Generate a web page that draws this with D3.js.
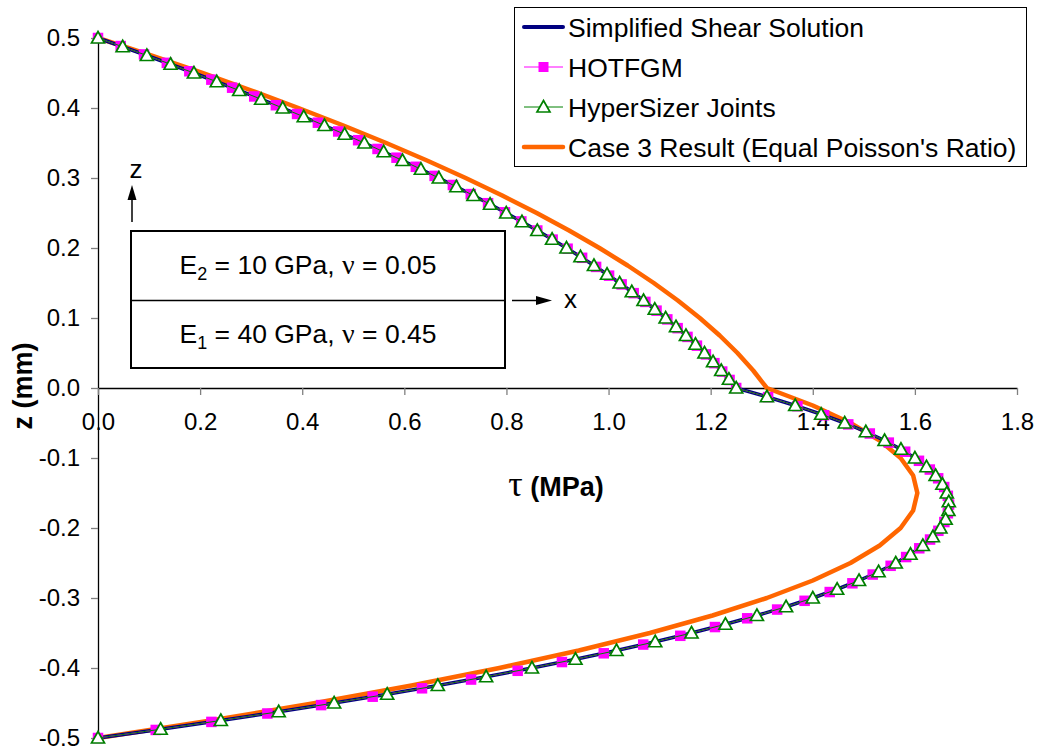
<!DOCTYPE html>
<html><head><meta charset="utf-8">
<script src="https://cdn.jsdelivr.net/npm/d3@7"></script>
<style>
body{margin:0;background:#fff;}
svg{display:block;font-family:"Liberation Sans",Arial,sans-serif;}
</style>
</head><body>
<svg id="chart" width="1037" height="752"></svg>
<script>
// ---------- data ----------
const seriesNames = ["Simplified Shear Solution", "HOTFGM", "HyperSizer Joints", "Case 3 Result (Equal Poisson's Ratio)"];

const xTicks = [0, 0.2, 0.4, 0.6, 0.8, 1.0, 1.2, 1.4, 1.6, 1.8];
const xTickLabels = ["0.0", "0.2", "0.4", "0.6", "0.8", "1.0", "1.2", "1.4", "1.6", "1.8"];
const yTicks = [0.5, 0.4, 0.3, 0.2, 0.1, 0, -0.1, -0.2, -0.3, -0.4, -0.5];
const yTickLabels = ["0.5", "0.4", "0.3", "0.2", "0.1", "0.0", "-0.1", "-0.2", "-0.3", "-0.4", "-0.5"];

// through-thickness positions z (mm) of the simplified solution / HyperSizer points
const zGrid = [0.5, 0.4875, 0.475, 0.4625, 0.45, 0.4375, 0.425, 0.4125, 0.4, 0.3875,
  0.375, 0.3625, 0.35, 0.3375, 0.325, 0.3125, 0.3, 0.2875, 0.275, 0.2625,
  0.25, 0.2375, 0.225, 0.2125, 0.2, 0.1875, 0.175, 0.1625, 0.15, 0.1375,
  0.125, 0.1125, 0.1, 0.0875, 0.075, 0.0625, 0.05, 0.0375, 0.025, 0.0125, 0,
  -0.0125, -0.025, -0.0375, -0.05, -0.0625, -0.075, -0.0875, -0.1, -0.1125, -0.125,
  -0.1375, -0.15, -0.1625, -0.175, -0.1875, -0.2, -0.2125, -0.225, -0.2375, -0.25,
  -0.2625, -0.275, -0.2875, -0.3, -0.3125, -0.325, -0.3375, -0.35, -0.3625, -0.375,
  -0.3875, -0.4, -0.4125, -0.425, -0.4375, -0.45, -0.4625, -0.475, -0.4875, -0.5];

// Simplified Shear Solution, tau (MPa)
const shearTau = [0, 0.0483, 0.0957, 0.1422, 0.1879, 0.2326, 0.2766, 0.3196, 0.3618, 0.4030,
  0.4435, 0.4830, 0.5217, 0.5595, 0.5964, 0.6325, 0.6676, 0.7019, 0.7354, 0.7679,
  0.7996, 0.8304, 0.8604, 0.8894, 0.9176, 0.9450, 0.9714, 0.9970, 1.0217, 1.0455,
  1.0685, 1.0905, 1.1118, 1.1321, 1.1516, 1.1702, 1.1879, 1.2047, 1.2207, 1.2358, 1.2500,
  1.3102, 1.3656, 1.4164, 1.4625, 1.5039, 1.5406, 1.5727, 1.6000, 1.6227, 1.6406,
  1.6539, 1.6625, 1.6664, 1.6656, 1.6602, 1.6500, 1.6352, 1.6156, 1.5914, 1.5625,
  1.5289, 1.4906, 1.4477, 1.4000, 1.3477, 1.2906, 1.2289, 1.1625, 1.0914, 1.0156,
  0.9352, 0.8500, 0.7602, 0.6656, 0.5664, 0.4625, 0.3539, 0.2406, 0.1227, 0];

// HyperSizer Joints, tau (MPa) at zGrid
const hyperTau = [0, 0.0483, 0.0957, 0.1422, 0.1879, 0.2326, 0.2766, 0.3196, 0.3618, 0.4030,
  0.4435, 0.4830, 0.5217, 0.5595, 0.5964, 0.6325, 0.6676, 0.7019, 0.7354, 0.7679,
  0.7996, 0.8304, 0.8604, 0.8894, 0.9176, 0.9450, 0.9714, 0.9970, 1.0217, 1.0455,
  1.0685, 1.0905, 1.1118, 1.1321, 1.1516, 1.1702, 1.1879, 1.2047, 1.2207, 1.2358, 1.2500,
  1.3102, 1.3656, 1.4164, 1.4625, 1.5039, 1.5406, 1.5727, 1.6000, 1.6227, 1.6406,
  1.6539, 1.6625, 1.6664, 1.6656, 1.6602, 1.6500, 1.6352, 1.6156, 1.5914, 1.5625,
  1.5289, 1.4906, 1.4477, 1.4000, 1.3477, 1.2906, 1.2289, 1.1625, 1.0914, 1.0156,
  0.9352, 0.8500, 0.7602, 0.6656, 0.5664, 0.4625, 0.3539, 0.2406, 0.1227, 0];

// HOTFGM points (own z positions)
const hotZ = [0.5, 0.4885, 0.4765, 0.4645, 0.4525, 0.4405, 0.429, 0.4165, 0.404, 0.3915,
  0.379, 0.3665, 0.354, 0.3415, 0.329, 0.316, 0.303, 0.29, 0.277, 0.264,
  0.251, 0.238, 0.225, 0.212, 0.199, 0.186, 0.173, 0.1605, 0.148, 0.1355,
  0.123, 0.1105, 0.098, 0.0855, 0.073, 0.0605, 0.048, 0.0355, 0.0235, 0.0115, 0,
  -0.013, -0.026, -0.039, -0.052, -0.065, -0.078, -0.091, -0.104, -0.1165, -0.129,
  -0.1415, -0.154, -0.1665, -0.179, -0.1915, -0.204, -0.2165, -0.229, -0.2415, -0.254,
  -0.2665, -0.279, -0.2915, -0.304, -0.3165, -0.329, -0.3415, -0.354, -0.3665, -0.379,
  -0.3915, -0.404, -0.4165, -0.429, -0.441, -0.453, -0.465, -0.477, -0.4885, -0.5];
const hotTau = [0, 0.0445, 0.0901, 0.1348, 0.1789, 0.2220, 0.2627, 0.3060, 0.3484, 0.3899,
  0.4307, 0.4705, 0.5095, 0.5475, 0.5847, 0.6225, 0.6593, 0.6951, 0.7301, 0.7640,
  0.7971, 0.8292, 0.8604, 0.8905, 0.9198, 0.9482, 0.9756, 1.0010, 1.0256, 1.0492,
  1.0721, 1.0940, 1.1151, 1.1353, 1.1546, 1.1731, 1.1907, 1.2073, 1.2226, 1.2370, 1.2500,
  1.3125, 1.3699, 1.4222, 1.4695, 1.5117, 1.5489, 1.5810, 1.6080, 1.6292, 1.6456,
  1.6574, 1.6645, 1.6669, 1.6646, 1.6577, 1.6460, 1.6297, 1.6086, 1.5829, 1.5525,
  1.5174, 1.4776, 1.4332, 1.3840, 1.3302, 1.2716, 1.2084, 1.1405, 1.0679, 0.9906,
  0.9087, 0.8220, 0.7307, 0.6346, 0.5380, 0.4370, 0.3317, 0.2221, 0.1131, 0];

// Case 3 Result (Equal Poisson's Ratio)
const caseZ = [0.5, 0.475, 0.45, 0.425, 0.4, 0.375, 0.35, 0.325, 0.3, 0.275,
  0.25, 0.225, 0.2, 0.175, 0.15, 0.125, 0.1, 0.075, 0.05, 0.025, 0,
  -0.025, -0.05, -0.075, -0.1, -0.125, -0.15, -0.175, -0.2, -0.225, -0.25,
  -0.275, -0.3, -0.325, -0.35, -0.375, -0.4, -0.425, -0.45, -0.475, -0.5];
const caseTau = [0, 0.1043, 0.2045, 0.3007, 0.3927, 0.4807, 0.5646, 0.6444, 0.7201, 0.7917,
  0.8593, 0.9227, 0.9821, 1.0374, 1.0886, 1.1357, 1.1787, 1.2177, 1.2525, 1.2833, 1.3100,
  1.4001, 1.4738, 1.5311, 1.5720, 1.5966, 1.6048, 1.5966, 1.5720, 1.5311, 1.4738,
  1.4001, 1.3100, 1.2036, 1.0808, 0.9416, 0.7860, 0.6141, 0.4258, 0.2211, 0];

// ---------- drawing ----------
const svg = d3.select("#chart");
svg.append("rect").attr("width", 1037).attr("height", 752).attr("fill", "#fff");

const x = d3.scaleLinear().domain([0, 1.8]).range([98, 1017]);
const y = d3.scaleLinear().domain([-0.5, 0.5]).range([738, 38]);

const colors = {shear: "#000080", hot: "#FF00FF", hyper: "#008000", case3: "#FF6600"};

// axes
const yAxis = d3.axisLeft(y).tickValues(yTicks).tickFormat((d, i) => yTickLabels[i])
  .tickSize(7).tickSizeOuter(0).tickPadding(11);
const gy = svg.append("g").attr("transform", "translate(98,0)").call(yAxis);
const xAxis = d3.axisBottom(x).tickValues(xTicks).tickFormat((d, i) => xTickLabels[i])
  .tickSize(7).tickSizeOuter(0);
const gx = svg.append("g").attr("transform", `translate(0,${y(0)})`).call(xAxis);

[gx, gy].forEach(g => {
  g.select(".domain").attr("stroke", "#000").attr("stroke-width", 1.3);
  g.selectAll(".tick line").attr("stroke", "#808080").attr("stroke-width", 1.3);
  g.selectAll(".tick text").attr("fill", "#000").attr("font-size", 24)
    .attr("font-family", "Liberation Sans, Arial, sans-serif");
});
gx.selectAll(".tick text").attr("y", 42).attr("dy", 0);

// axis titles
svg.append("text").attr("transform", "translate(32,386) rotate(-90)")
  .attr("text-anchor", "middle").attr("font-size", 27).attr("font-weight", "bold")
  .text("z (mm)");
const xt = svg.append("text").attr("x", 556).attr("y", 496).attr("text-anchor", "middle")
  .attr("font-weight", "bold").attr("font-size", 27);
xt.append("tspan").attr("font-family", "Liberation Serif, serif").attr("font-size", 36)
  .attr("font-weight", "normal").text("τ");
xt.append("tspan").text(" (MPa)");

// series
const line = d3.line().x(d => x(d[0])).y(d => y(d[1]));
const shearPts = shearTau.map((t, i) => [t, zGrid[i]]);
const hyperPts = hyperTau.map((t, i) => [t, zGrid[i]]);
const hotPts = hotTau.map((t, i) => [t, hotZ[i]]);
const casePts = caseTau.map((t, i) => [t, caseZ[i]]);

svg.append("path").datum(casePts).attr("d", line).attr("fill", "none")
  .attr("stroke", colors.case3).attr("stroke-width", 4.5).attr("stroke-linejoin", "round");
svg.append("path").datum(shearPts).attr("d", line).attr("fill", "none")
  .attr("stroke", colors.shear).attr("stroke-width", 3.5).attr("stroke-linejoin", "round");
svg.append("path").datum(hotPts).attr("d", line).attr("fill", "none")
  .attr("stroke", colors.hot).attr("stroke-width", 1);
svg.append("g").selectAll("rect").data(hotPts).join("rect")
  .attr("x", d => x(d[0]) - 5.25).attr("y", d => y(d[1]) - 5.25)
  .attr("width", 10.5).attr("height", 10.5).attr("fill", colors.hot);
svg.append("path").datum(hyperPts).attr("d", line).attr("fill", "none")
  .attr("stroke", colors.hyper).attr("stroke-width", 1);
const triPath = "M0,-6.5 L6.5,5 L-6.5,5 Z";
svg.append("g").selectAll("path").data(hyperPts).join("path")
  .attr("d", triPath).attr("transform", d => `translate(${x(d[0])},${y(d[1])})`)
  .attr("fill", "#fff").attr("stroke", colors.hyper).attr("stroke-width", 1.7);

// legend
const lg = svg.append("g");
lg.append("rect").attr("x", 514.5).attr("y", 7.5).attr("width", 512).attr("height", 159)
  .attr("fill", "#fff").attr("stroke", "#000").attr("stroke-width", 1);
const rowY = [27, 67, 107, 147];
const lx1 = 524, lx2 = 563;
lg.append("line").attr("x1", lx1).attr("x2", lx2).attr("y1", rowY[0]).attr("y2", rowY[0])
  .attr("stroke", colors.shear).attr("stroke-width", 4).attr("stroke-linecap", "round");
lg.append("line").attr("x1", lx1).attr("x2", lx2).attr("y1", rowY[1]).attr("y2", rowY[1])
  .attr("stroke", colors.hot).attr("stroke-width", 1);
lg.append("rect").attr("x", (lx1 + lx2) / 2 - 5).attr("y", rowY[1] - 5).attr("width", 10).attr("height", 10)
  .attr("fill", colors.hot);
lg.append("line").attr("x1", lx1).attr("x2", lx2).attr("y1", rowY[2]).attr("y2", rowY[2])
  .attr("stroke", colors.hyper).attr("stroke-width", 1);
lg.append("path").attr("d", triPath).attr("transform", `translate(${(lx1 + lx2) / 2},${rowY[2]})`)
  .attr("fill", "#fff").attr("stroke", colors.hyper).attr("stroke-width", 1.7);
lg.append("line").attr("x1", lx1).attr("x2", lx2).attr("y1", rowY[3]).attr("y2", rowY[3])
  .attr("stroke", colors.case3).attr("stroke-width", 4.5).attr("stroke-linecap", "round");
lg.selectAll("text.lbl").data(seriesNames).join("text").attr("class", "lbl")
  .attr("x", 568).attr("y", (d, i) => rowY[i] + 9.5).attr("font-size", 26.5).attr("fill", "#000")
  .text(d => d);

// inset diagram
const ins = svg.append("g");
ins.append("rect").attr("x", 131).attr("y", 231).attr("width", 374).attr("height", 137)
  .attr("fill", "#fff").attr("stroke", "#000").attr("stroke-width", 2);
ins.append("line").attr("x1", 131).attr("x2", 505).attr("y1", 300.5).attr("y2", 300.5)
  .attr("stroke", "#000").attr("stroke-width", 1.5);
function layerText(yb, sub, rest1, rest2) {
  const t = ins.append("text").attr("x", 308).attr("y", yb).attr("text-anchor", "middle")
    .attr("font-size", 26.5);
  t.append("tspan").text("E");
  t.append("tspan").attr("font-size", 18).attr("dy", 6).text(sub);
  t.append("tspan").attr("dy", -6).text(rest1);
  t.append("tspan").attr("font-family", "Liberation Serif, serif").attr("font-size", 28).text("ν");
  t.append("tspan").text(rest2);
}
layerText(274, "2", " = 10 GPa, ", " = 0.05");
layerText(343, "1", " = 40 GPa, ", " = 0.45");
// z arrow
ins.append("line").attr("x1", 132).attr("x2", 132).attr("y1", 222).attr("y2", 198)
  .attr("stroke", "#000").attr("stroke-width", 1.5);
ins.append("path").attr("d", "M127.5,200 L136.5,200 L132,185 Z").attr("fill", "#000");
ins.append("text").attr("x", 136).attr("y", 178).attr("text-anchor", "middle").attr("font-size", 26).text("z");
// x arrow
ins.append("line").attr("x1", 512).attr("x2", 538).attr("y1", 300.5).attr("y2", 300.5)
  .attr("stroke", "#000").attr("stroke-width", 1.5);
ins.append("path").attr("d", "M536,296 L536,305 L552,300.5 Z").attr("fill", "#000");
ins.append("text").attr("x", 564).attr("y", 308).attr("font-size", 26).text("x");
</script>
</body></html>
